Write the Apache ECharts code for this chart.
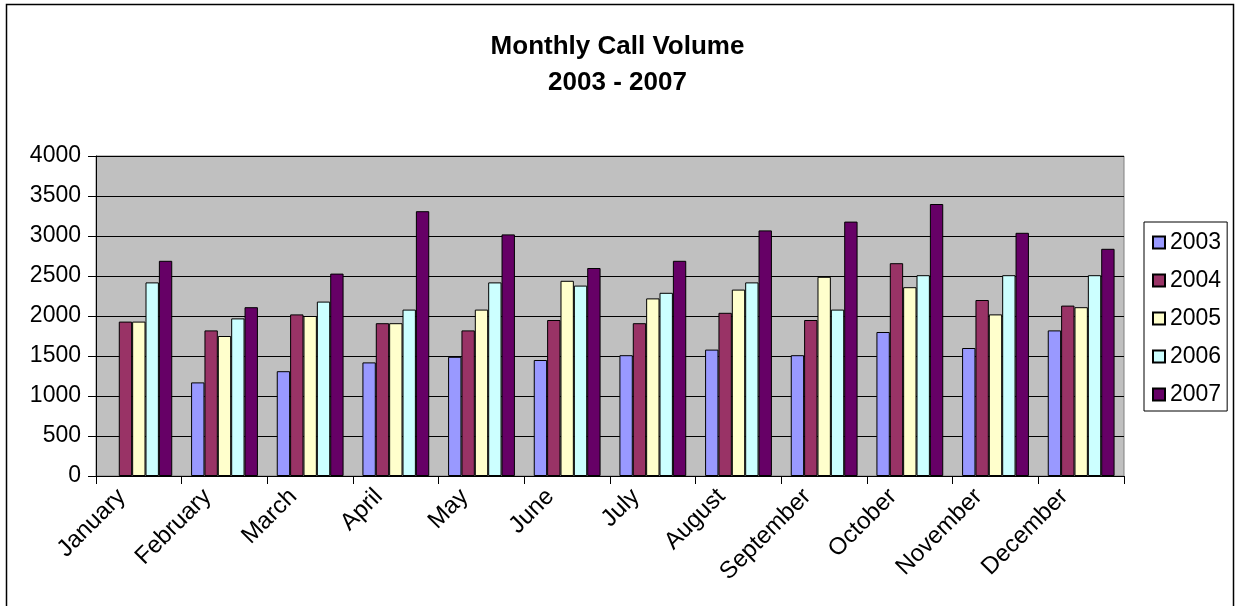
<!DOCTYPE html>
<html>
<head>
<meta charset="utf-8">
<title>Monthly Call Volume</title>
<script src="https://cdn.jsdelivr.net/npm/echarts@6/dist/echarts.min.js"></script>
<style>
  html, body { margin: 0; padding: 0; background: #fff; }
  #chart { width: 1235px; height: 606px; }
</style>
</head>
<body>
<div id="chart"></div>
<script>
// 月份
const months = ['January', 'February', 'March', 'April', 'May', 'June',
  'July', 'August', 'September', 'October', 'November', 'December'];
const years = ['2003', '2004', '2005', '2006', '2007'];

// 各年数据 (2003 一月无数据)
const v2003 = [null, 1170, 1310, 1420, 1490, 1450, 1510, 1580, 1510, 1800, 1600, 1820];
const v2004 = [1930, 1820, 2020, 1910, 1820, 1950, 1910, 2040, 1950, 2660, 2200, 2130];
const v2005 = [1930, 1750, 2000, 1910, 2080, 2440, 2220, 2330, 2490, 2360, 2020, 2110];
const v2006 = [2420, 1970, 2180, 2080, 2420, 2380, 2290, 2420, 2080, 2510, 2510, 2510];
const v2007 = [2690, 2110, 2530, 3310, 3020, 2600, 2690, 3070, 3180, 3400, 3040, 2840];

const yMax = 4000;
const yStep = 500;

const colors = ['#9999ff', '#993366', '#ffffcc', '#ccffff', '#660066'];
const font = 'Liberation Sans, Arial, sans-serif';

const myChart = echarts.init(document.getElementById('chart'));

const allValues = [v2003, v2004, v2005, v2006, v2007];

const option = {
  animation: false,
  backgroundColor: '#fff',
  textStyle: { fontFamily: font, color: '#000' },
  title: {
    text: 'Monthly Call Volume\n2003 - 2007',
    left: 'center',
    top: 24,
    textStyle: {
      fontFamily: font,
      fontSize: 26,
      fontWeight: 'bold',
      color: '#000',
      lineHeight: 36
    }
  },
  // 外边框
  graphic: [{
    type: 'rect',
    shape: { x: 6.5, y: 4.5, width: 1227, height: 610 },
    style: { fill: 'none', stroke: '#000', lineWidth: 1.5 },
    silent: true
  }],
  legend: {
    data: years,
    orient: 'vertical',
    left: 1144,
    top: 222,
    padding: [9, 6, 5, 8],
    itemGap: 15,
    itemWidth: 12,
    itemHeight: 12,
    icon: 'rect',
    borderColor: '#000',
    borderWidth: 1,
    textStyle: { fontFamily: font, fontSize: 23, color: '#000', lineHeight: 22 }
  },
  grid: {
    left: 96,
    right: 111,
    top: 156,
    bottom: 130,
    show: true,
    backgroundColor: '#c0c0c0',
    borderColor: '#808080',
    borderWidth: 1
  },
  xAxis: {
    type: 'category',
    data: months,
    axisLine: { lineStyle: { color: '#000', width: 1 } },
    axisTick: { show: true, length: 8, lineStyle: { color: '#000' } },
    axisLabel: {
      rotate: 45,
      margin: 0,
      padding: [0, 24, 0, 0],
      fontFamily: font,
      fontSize: 24,
      color: '#000',
      interval: 0
    },
    splitLine: { show: false }
  },
  yAxis: {
    type: 'value',
    min: 0,
    max: yMax,
    interval: yStep,
    axisLine: { show: true, lineStyle: { color: '#000', width: 1 } },
    axisTick: { show: true, length: 8, lineStyle: { color: '#000' } },
    axisLabel: {
      fontFamily: font,
      fontSize: 23,
      color: '#000',
      margin: 15,
      formatter: (v) => String(v)
    },
    splitLine: { lineStyle: { color: '#000', width: 1 } }
  },
  series: years.map((y, i) => ({
    name: y,
    type: 'bar',
    data: allValues[i],
    barGap: '0%',
    barCategoryGap: '22%',
    itemStyle: {
      color: colors[i],
      borderColor: '#000',
      borderWidth: 1
    }
  }))
};

myChart.setOption(option);
</script>
</body>
</html>
